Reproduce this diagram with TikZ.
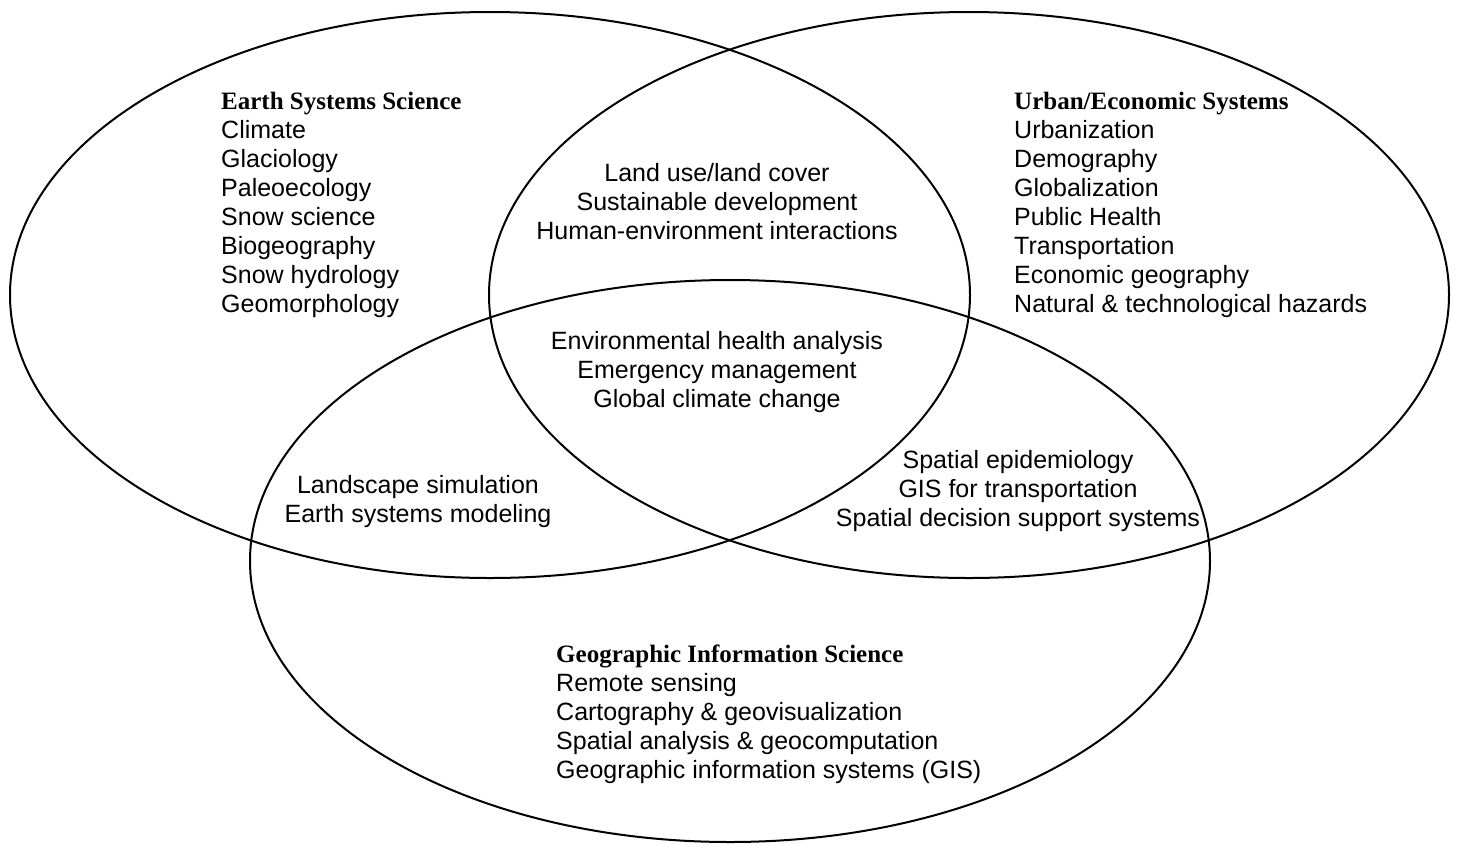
\documentclass[tikz,border=0pt]{standalone}
\usepackage{fontspec}
\setmainfont{Liberation Sans}
\newfontfamily\headfont{Liberation Serif}
\begin{document}
\begin{tikzpicture}[x=1pt,y=-1pt,
  region/.style={draw=black,line width=2pt},
  txt/.style={inner sep=0pt,font=\fontsize{25}{29}\selectfont},
  leftblock/.style={txt,anchor=base west,align=left},
  midblock/.style={txt,anchor=base,align=center}]
\useasboundingbox (0,0) rectangle (1460,844);

% the three overlapping fields
\draw[region] (490,295) ellipse [x radius=480, y radius=283];
\draw[region] (969,295) ellipse [x radius=480, y radius=283];
\draw[region] (730,561) ellipse [x radius=480, y radius=281];

% field headings with their topics (positioned by the baseline of the last line)
\node[leftblock] (ess) at (221,312)
  {{\headfont\bfseries Earth Systems Science}\\Climate\\Glaciology\\Paleoecology\\Snow science\\Biogeography\\Snow hydrology\\Geomorphology};
\node[leftblock] (ues) at (1014,312)
  {{\headfont\bfseries Urban/Economic Systems}\\Urbanization\\Demography\\Globalization\\Public Health\\Transportation\\Economic geography\\Natural \& technological hazards};
\node[leftblock] (gis) at (556,778)
  {{\headfont\bfseries Geographic Information Science}\\Remote sensing\\Cartography \& geovisualization\\Spatial analysis \& geocomputation\\Geographic information systems (GIS)};

% overlaps
\node[midblock] (top) at (717,239)
  {Land use/land cover\\Sustainable development\\Human-environment interactions};
\node[midblock] (core) at (717,407)
  {Environmental health analysis\\Emergency management\\Global climate change};
\node[midblock] (lowleft) at (418,522)
  {Landscape simulation\\Earth systems modeling};
\node[midblock] (lowright) at (1018,526)
  {Spatial epidemiology\\GIS for transportation\\Spatial decision support systems};
\end{tikzpicture}
\end{document}
